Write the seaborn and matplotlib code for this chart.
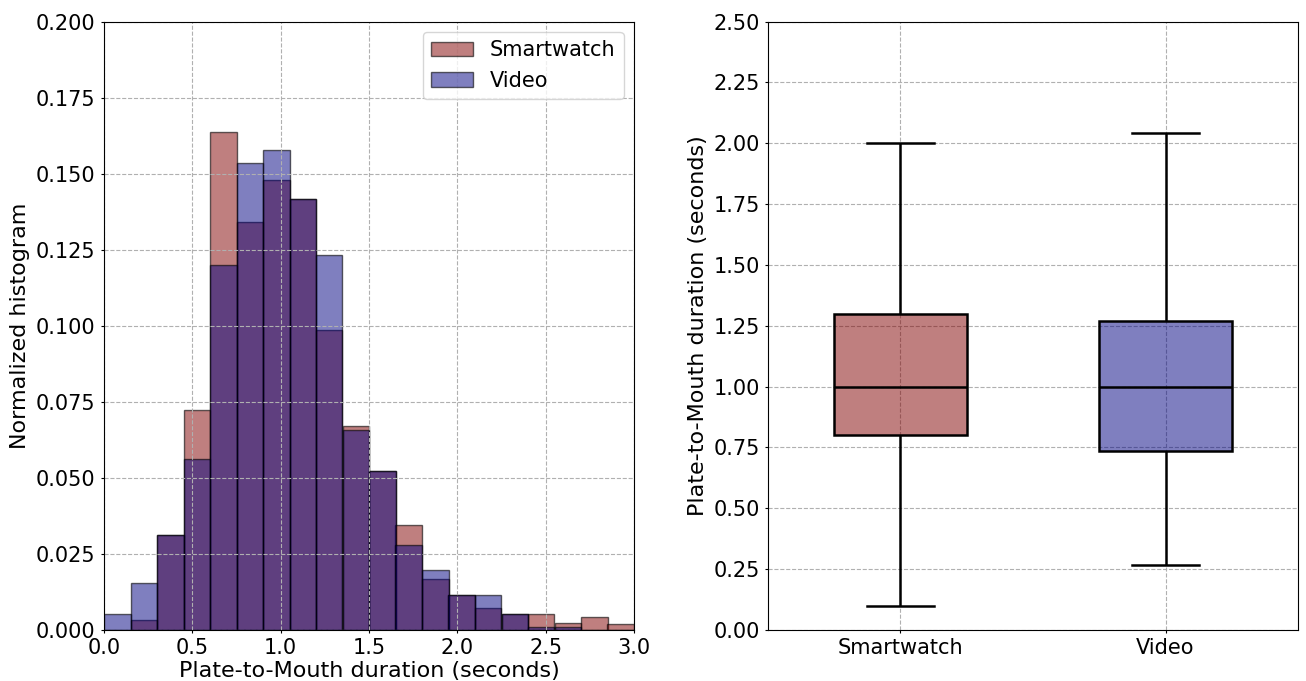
#!/usr/bin/env python3
"""
Plate-to-Mouth duration: histogram and box plot, smartwatch vs video.
"""

import numpy as np
import pandas as pd
import matplotlib
matplotlib.use("Agg")
import matplotlib.pyplot as plt
from matplotlib.colors import to_rgb
import seaborn as sns

# Histogram bins (seconds) and normalized bin heights
bin_edges = [0.0, 0.15, 0.30, 0.45, 0.60, 0.75, 0.90, 1.05, 1.20, 1.35,
             1.50, 1.65, 1.80, 1.95, 2.10, 2.25, 2.40, 2.55, 2.70, 2.85, 3.0]
smartwatch_hist = [0.0, 0.0033, 0.0313, 0.0724, 0.1636, 0.1341, 0.1479, 0.1415,
                   0.0985, 0.0669, 0.0524, 0.0344, 0.0167, 0.0114, 0.0072,
                   0.0051, 0.0051, 0.0022, 0.0042, 0.0019]
video_hist = [0.0052, 0.0156, 0.0312, 0.0562, 0.1201, 0.1535, 0.1577, 0.1418,
              0.1231, 0.0656, 0.0521, 0.0281, 0.0197, 0.0114, 0.0114,
              0.0051, 0.0009, 0.0009, 0.0, 0.0]

# Box plot summary: whisker low, Q1, median, Q3, whisker high
groups = ["Smartwatch", "Video"]
smartwatch_box = [0.10, 0.80, 1.00, 1.30, 2.00]
video_box = [0.265, 0.735, 1.00, 1.27, 2.04]

colors = {"Smartwatch": "maroon", "Video": "navy"}

plt.rcParams["font.size"] = 15
plt.rcParams["axes.labelsize"] = 16
plt.rcParams["xtick.major.size"] = 2.5
plt.rcParams["ytick.major.size"] = 2.5
plt.rcParams["font.family"] = ["DejaVu Sans"]

fig, (ax1, ax2) = plt.subplots(1, 2, figsize=(13.06, 6.81), dpi=100)
fig.subplots_adjust(left=104 / 1306, right=1298 / 1306, bottom=1 - 630 / 681,
                    top=1 - 21.5 / 681, wspace=134 / 530)

# Left: overlaid histograms
centers = (np.array(bin_edges[:-1]) + np.array(bin_edges[1:])) / 2
sns.histplot(x=centers, weights=smartwatch_hist, bins=bin_edges, ax=ax1,
             color=colors["Smartwatch"], alpha=0.5, edgecolor=(0, 0, 0, 0.6),
             linewidth=1, label="Smartwatch")
sns.histplot(x=centers, weights=video_hist, bins=bin_edges, ax=ax1,
             color=colors["Video"], alpha=0.5, edgecolor=(0, 0, 0, 0.6),
             linewidth=1, label="Video")
ax1.set_xlim(0, 3.0)
ax1.set_ylim(0, 0.2)
ax1.set_xticks(np.arange(0, 3.01, 0.5))
ax1.set_yticks(np.arange(0, 0.2001, 0.025))
ax1.yaxis.set_major_formatter(plt.FormatStrFormatter("%.3f"))
ax1.set_xlabel("Plate-to-Mouth duration (seconds)", labelpad=2)
ax1.set_ylabel("Normalized histogram")
ax1.grid(True, linestyle="--", color="#b0b0b0", linewidth=0.8)
ax1.legend(loc="upper right")

# Right: box plots
box_df = pd.DataFrame({
    "group": ["Smartwatch"] * len(smartwatch_box) + ["Video"] * len(video_box),
    "duration": smartwatch_box + video_box,
})
sns.boxplot(data=box_df, x="group", y="duration", hue="group", order=groups,
            palette=colors, whis=(0, 100), showfliers=False, width=0.5,
            linewidth=1.8, linecolor="black", legend=False, ax=ax2)
for patch, g in zip(ax2.patches, groups):
    patch.set_facecolor((*to_rgb(colors[g]), 0.5))
    patch.set_edgecolor("black")
ax2.set_xlim(-0.5, 1.5)
ax2.set_ylim(0, 2.5)
ax2.set_yticks(np.arange(0, 2.501, 0.25))
ax2.yaxis.set_major_formatter(plt.FormatStrFormatter("%.2f"))
ax2.set_xlabel("")
ax2.set_ylabel("Plate-to-Mouth duration (seconds)")
ax2.grid(True, linestyle="--", color="#b0b0b0", linewidth=0.8)

plt.savefig("out.png", dpi=100)
